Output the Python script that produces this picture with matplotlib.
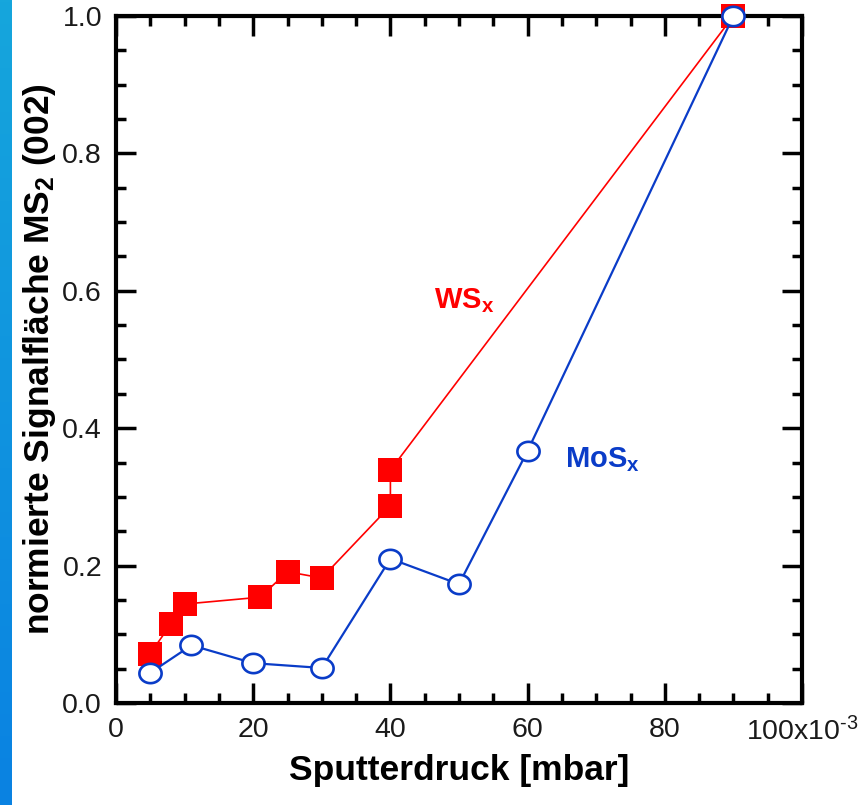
import numpy as np
import matplotlib
matplotlib.use("Agg")
import matplotlib.pyplot as plt
from matplotlib.path import Path
from matplotlib.ticker import MultipleLocator, FixedLocator, FixedFormatter
from matplotlib.colors import LinearSegmentedColormap

plt.rcParams['font.family'] = ['Liberation Sans', 'DejaVu Sans']
plt.rcParams['mathtext.fontset'] = 'custom'
plt.rcParams['mathtext.rm'] = 'Liberation Sans'
plt.rcParams['mathtext.bf'] = 'Liberation Sans:bold'
plt.rcParams['mathtext.it'] = 'Liberation Sans:italic'

# Data (pressure in 10^-3 mbar, normalized signal area)
ws_x = [5, 8, 10, 21, 25, 30, 40, 40, 90]
ws_y = [0.072, 0.115, 0.144, 0.154, 0.191, 0.182, 0.287, 0.339, 1.0]
mos_x = [5, 11, 20, 30, 40, 50, 60, 90]
mos_y = [0.044, 0.084, 0.058, 0.051, 0.210, 0.173, 0.367, 1.0]

x_ticks = [0, 20, 40, 60, 80, 100]
x_ticklabels = ['0', '20', '40', '60', '80', r'100x10$^{\text{-3}}$']
y_ticks = [0.0, 0.2, 0.4, 0.6, 0.8, 1.0]
y_ticklabels = ['0.0', '0.2', '0.4', '0.6', '0.8', '1.0']

RED = '#ff0000'
BLUE = '#0a3cc8'

W, H = 859, 805
fig = plt.figure(figsize=(W / 100, H / 100), dpi=100)

# left gradient strip
strip = fig.add_axes([0, 0, 12 / W, 1])
grad = np.linspace(0, 1, 256).reshape(-1, 1)
cmap = LinearSegmentedColormap.from_list('strip', ['#0a82e2', '#16a6dc'])
strip.imshow(grad, aspect='auto', cmap=cmap, origin='lower', extent=[0, 1, 0, 1])
strip.set_axis_off()

ax = fig.add_axes([116 / W, (H - 703) / H, (802 - 116) / W, (703 - 16) / H])
ax.set_xlim(0, 100)
ax.set_ylim(0, 1.0)

# ellipse marker
t = np.linspace(0, 2 * np.pi, 60)
ell = Path(np.column_stack([np.cos(t), 0.87 * np.sin(t)]), closed=True)

ax.plot(ws_x, ws_y, color=RED, lw=1.2, marker='s', ms=17.5, mfc=RED, mec=RED,
        mew=0, clip_on=False, zorder=3)
ax.plot(mos_x, mos_y, color=BLUE, lw=1.6, marker=ell, ms=16, mfc='white',
        mec=BLUE, mew=1.9, clip_on=False, zorder=4)

ax.text(46.3, 0.574, r'WS$_\mathbf{x}$', color=RED, fontsize=21, fontweight='bold')
ax.text(65.4, 0.343, r'MoS$_\mathbf{x}$', color=BLUE, fontsize=21, fontweight='bold')

for s in ax.spines.values():
    s.set_linewidth(3)

ax.xaxis.set_major_locator(FixedLocator(x_ticks))
ax.xaxis.set_major_formatter(FixedFormatter(x_ticklabels))
ax.xaxis.set_minor_locator(MultipleLocator(5))
ax.yaxis.set_major_locator(FixedLocator(y_ticks))
ax.yaxis.set_major_formatter(FixedFormatter(y_ticklabels))
ax.yaxis.set_minor_locator(MultipleLocator(0.05))

ax.tick_params(which='both', direction='in', top=True, right=True, width=2.5,
               colors='black', labelcolor='#1a1a1a', labelsize=20.5)
ax.tick_params(which='major', length=14.5)
ax.tick_params(which='minor', length=7.5)
ax.tick_params(axis='y', pad=10)
ax.tick_params(axis='x', pad=10)

ax.set_xlabel('Sputterdruck [mbar]', fontsize=25.5, fontweight='bold', labelpad=6)
ax.set_ylabel(r'normierte Signalfläche MS$_\mathbf{2}$ (002)', fontsize=25.5,
              fontweight='bold', labelpad=3)

fig.savefig('out.png', dpi=100)
